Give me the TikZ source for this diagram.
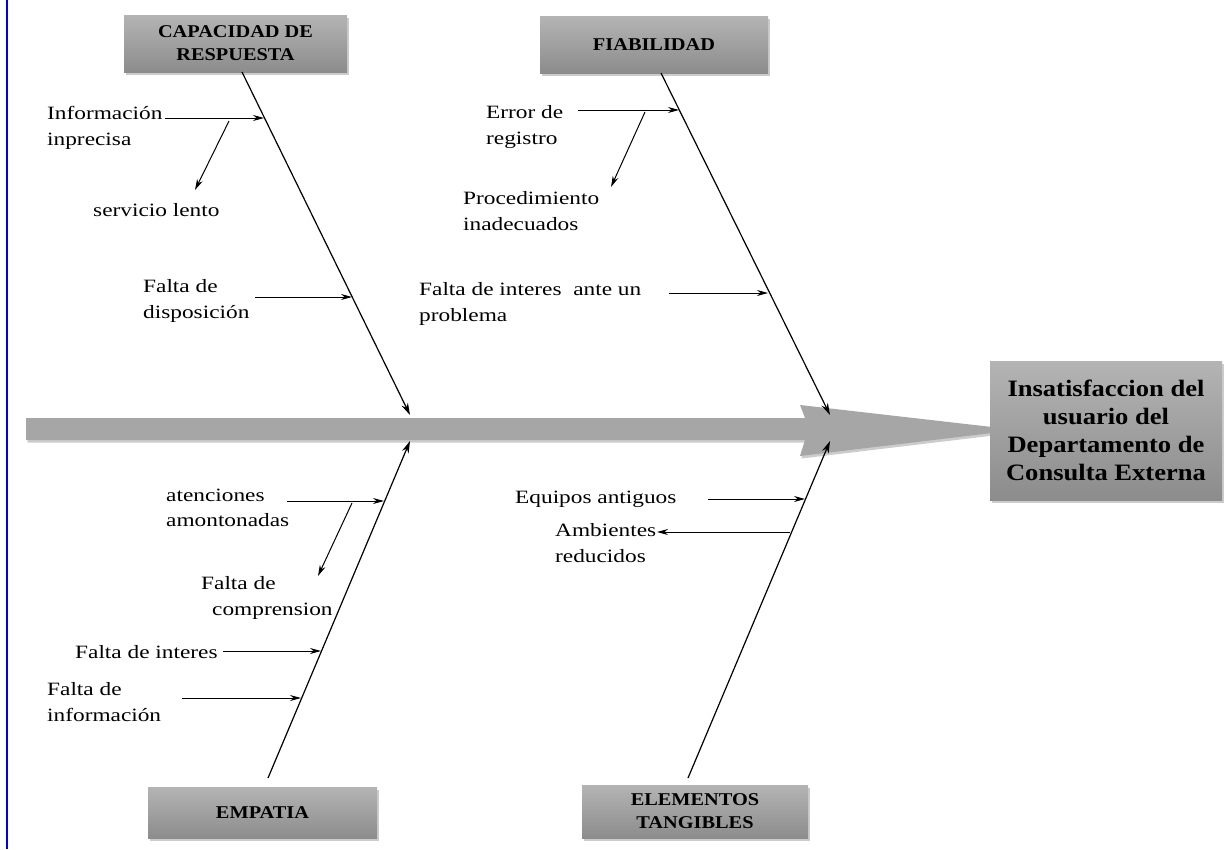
\documentclass[tikz,border=0pt]{standalone}
\usepackage{fontspec}
\setmainfont{Liberation Serif}
\newfontfamily\lblfont{Liberation Serif}[FakeStretch=1.24]
\newfontfamily\ttlfont{Liberation Serif}[FakeStretch=1.13]
\usetikzlibrary{arrows.meta,shadows}

\definecolor{boxtop}{RGB}{180,180,180}
\definecolor{boxbot}{RGB}{140,140,140}
\definecolor{spinegray}{RGB}{166,166,166}
\definecolor{edgeblue}{RGB}{0,0,230}

\tikzset{
  catbox/.style={draw=none, top color=boxtop, bottom color=boxbot,
    drop shadow={opacity=0.4, shadow xshift=1.5pt, shadow yshift=-2.5pt},
    font=\ttlfont\bfseries\fontsize{18}{23}\selectfont,
    align=center, inner sep=0pt},
  effectbox/.style={catbox, font=\ttlfont\bfseries\fontsize{23.5}{28}\selectfont},
  lbl/.style={font=\lblfont\fontsize{18.8}{25.5}\selectfont, align=left,
    inner sep=0pt, anchor=west},
  bone/.style={line width=1.2pt, -{Stealth[length=12pt,width=7pt]}},
  sub/.style={line width=1pt, -{Stealth[length=11pt,width=6pt]}},
}

\begin{document}
\begin{tikzpicture}[x=1pt,y=-1pt]
\useasboundingbox (0,0) rectangle (1225,849);

% page edge rule
\draw[edgeblue, line width=2pt] (7,0) -- (7,849);

% main spine with arrow head
\path[fill=spinegray, drop shadow={opacity=0.4, shadow xshift=1.5pt, shadow yshift=-2.5pt}]
  (26,418) -- (805,418) -- (800,405) -- (992,427) -- (992,433)
  -- (800,456) -- (805,440) -- (26,440) -- cycle;

% effect
\node[effectbox, minimum width=232pt, minimum height=139pt] (effect) at (1106,430.5)
  {Insatisfaccion del\\usuario del\\Departamento de\\Consulta Externa};

% categories
\node[catbox, minimum width=223pt, minimum height=57pt] (cap) at (235.5,43.5) {CAPACIDAD DE\\RESPUESTA};
\node[catbox, minimum width=228pt, minimum height=57pt] (fia) at (654,44.5) {FIABILIDAD};
\node[catbox, minimum width=229pt, minimum height=51pt] (emp) at (262.5,812.5) {EMPATIA};
\node[catbox, minimum width=226pt, minimum height=53pt] (ele) at (695,811.5) {ELEMENTOS\\TANGIBLES};

% bone end points
\coordinate (b1s) at (242,72);   \coordinate (b1e) at (410,415);
\coordinate (b2s) at (661,73);   \coordinate (b2e) at (830,415);
\coordinate (b3s) at (268,778);  \coordinate (b3e) at (410,441);
\coordinate (b4s) at (688,778);  \coordinate (b4e) at (830,441);

\draw[bone] (b1s) -- (b1e);
\draw[bone] (b2s) -- (b2e);
\draw[bone] (b3s) -- (b3e);
\draw[bone] (b4s) -- (b4e);

% causes: capacidad de respuesta
\node[lbl] (c1) at (47,128) {Información\\inprecisa};
\node[lbl] (c2) at (93,210) {servicio lento};
\node[lbl] (c3) at (143,301) {Falta de\\disposición};
\coordinate (c1a) at (165,118); \coordinate (c1b) at (264,118);
\coordinate (c2a) at (229,121); \coordinate (c2b) at (195,190);
\coordinate (c3a) at (255,297); \coordinate (c3b) at (352,297);
\draw[sub] (c1a) -- (c1b);
\draw[sub] (c2a) -- (c2b);
\draw[sub] (c3a) -- (c3b);

% causes: fiabilidad
\node[lbl] (f1) at (486,127) {Error de\\registro};
\node[lbl] (f2) at (463,211) {Procedimiento\\inadecuados};
\node[lbl] (f3) at (419,304) {Falta de interes~ ante un\\problema};
\coordinate (f1a) at (578,110); \coordinate (f1b) at (679,110);
\coordinate (f2a) at (645,112); \coordinate (f2b) at (611,187);
\coordinate (f3a) at (669,293); \coordinate (f3b) at (768,293);
\draw[sub] (f1a) -- (f1b);
\draw[sub] (f2a) -- (f2b);
\draw[sub] (f3a) -- (f3b);

% causes: empatia
\node[lbl] (e1) at (166,508) {atenciones\\amontonadas};
\node[lbl] (e2) at (201,598) {Falta de\\\hspace*{11pt}comprension};
\node[lbl] (e3) at (75,652) {Falta de interes};
\node[lbl] (e4) at (47,702) {Falta de\\información};
\coordinate (e1a) at (287,501); \coordinate (e1b) at (384,501);
\coordinate (e2a) at (352,503); \coordinate (e2b) at (318,576);
\coordinate (e3a) at (223,651); \coordinate (e3b) at (321,651);
\coordinate (e4a) at (182,698); \coordinate (e4b) at (301,698);
\draw[sub] (e1a) -- (e1b);
\draw[sub] (e2a) -- (e2b);
\draw[sub] (e3a) -- (e3b);
\draw[sub] (e4a) -- (e4b);

% causes: elementos tangibles
\node[lbl] (t1) at (515,499) {Equipos antiguos};
\node[lbl] (t2) at (555,543) {Ambientes\\reducidos};
\coordinate (t1a) at (708,499); \coordinate (t1b) at (805,499);
\coordinate (t2a) at (790,532); \coordinate (t2b) at (657,532);
\draw[sub] (t1a) -- (t1b);
\draw[sub] (t2a) -- (t2b);
\end{tikzpicture}
\end{document}
